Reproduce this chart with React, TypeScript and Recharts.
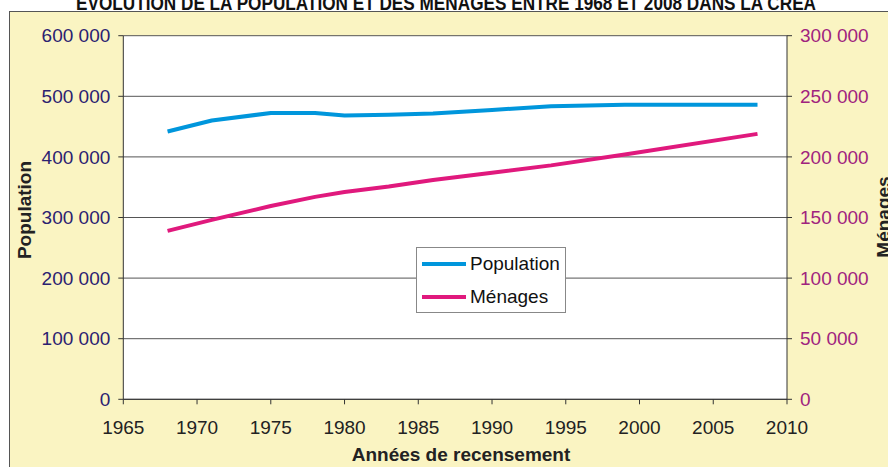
import React from 'react';
import { LineChart, Line, XAxis, YAxis, CartesianGrid, Legend, Label } from 'recharts';

const YEARS = [1968, 1971, 1975, 1978, 1980, 1983, 1986, 1990, 1994, 1999, 2008];
const POPULATION = [442000, 460000, 472500, 472500, 468500, 469500, 471500, 477500, 483500, 486000, 486000];
const MENAGES = [139000, 148000, 159500, 167000, 171000, 175500, 181000, 187000, 193000, 202000, 219000];

const X_TICKS = [1965, 1970, 1975, 1980, 1985, 1990, 1995, 2000, 2005, 2010];
const POP_TICKS = [0, 100000, 200000, 300000, 400000, 500000, 600000];
const MEN_TICKS = [0, 50000, 100000, 150000, 200000, 250000, 300000];

const TITLE = 'ÉVOLUTION DE LA POPULATION ET DES MÉNAGES ENTRE 1968 ET 2008 DANS LA CREA';

const data = YEARS.map((year, i) => ({ year, population: POPULATION[i], menages: MENAGES[i] }));

const FONT = '"Liberation Sans", Arial, sans-serif';
const BLUE = '#0096dc';
const PINK = '#e0197d';

const fmt = (v: number) => String(v).replace(/\B(?=(\d{3})+(?!\d))/g, ' ');

const LegendBox = () => (
  <div
    style={{
      width: 148,
      height: 64,
      background: '#fff',
      border: '1px solid #888',
      fontFamily: FONT,
      fontSize: 19,
      color: '#111',
      position: 'relative',
    }}
  >
    {[
      { name: 'Population', color: BLUE, top: 16 },
      { name: 'Ménages', color: PINK, top: 49 },
    ].map((item) => (
      <div key={item.name} style={{ position: 'absolute', left: 5, top: item.top - 11, height: 22, display: 'flex', alignItems: 'center' }}>
        <span style={{ display: 'inline-block', width: 44, height: 4, background: item.color, marginRight: 4 }} />
        <span>{item.name}</span>
      </div>
    ))}
  </div>
);

export default function App() {
  return (
    <div style={{ position: 'absolute', left: 0, top: 0, width: 888, height: 467, background: '#fff', overflow: 'hidden' }}>
      <div
        style={{
          position: 'absolute',
          left: 9,
          top: 11,
          width: 900,
          height: 480,
          background: '#faf4c2',
          borderTop: '1px solid #555',
          borderLeft: '1px solid #555',
        }}
      />
      <svg width={888} height={12} style={{ position: 'absolute', left: 0, top: 0 }}>
        <text x={76} y={9.5} fontFamily={FONT} fontWeight="bold" fontSize={20} fill="#111" textLength={740} lengthAdjust="spacingAndGlyphs">
          {TITLE}
        </text>
      </svg>
      <div style={{ position: 'absolute', left: 0, top: 0 }}>
        <LineChart width={888} height={467} data={data} margin={{ top: 35.7, right: 11, bottom: 27.7, left: 13.3 }} style={{ fontFamily: FONT }}>
          <CartesianGrid vertical={false} stroke="#555" fill="#fff" yAxisId="left" />
          <XAxis
            dataKey="year"
            type="number"
            domain={[1965, 2010]}
            ticks={X_TICKS}
            interval={0}
            height={40}
            tickSize={5}
            tickMargin={16}
            axisLine={{ stroke: '#333' }}
            tickLine={{ stroke: '#333' }}
            tick={{ fill: '#222', fontSize: 19 }}
          >
            <Label
              content={({ viewBox }: any) => (
                <text x={461} y={461} textAnchor="middle" fontFamily={FONT} fontWeight="bold" fontSize={19} fill="#222">
                  Années de recensement
                </text>
              )}
            />
          </XAxis>
          <YAxis
            yAxisId="left"
            domain={[0, 600000]}
            ticks={POP_TICKS}
            interval={0}
            width={110}
            tickSize={5}
            tickMargin={8}
            tickFormatter={fmt}
            axisLine={{ stroke: '#333' }}
            tickLine={{ stroke: '#333' }}
            tick={{ fill: '#2b2171', fontSize: 19 }}
          >
            <Label
              content={() => (
                <text transform="translate(31,210) rotate(-90)" textAnchor="middle" fontFamily={FONT} fontWeight="bold" fontSize={19} fill="#222">
                  Population
                </text>
              )}
            />
          </YAxis>
          <YAxis
            yAxisId="right"
            orientation="right"
            domain={[0, 300000]}
            ticks={MEN_TICKS}
            interval={0}
            width={90}
            tickSize={5}
            tickMargin={8}
            tickFormatter={fmt}
            axisLine={{ stroke: '#333' }}
            tickLine={{ stroke: '#333' }}
            tick={{ fill: '#a0237e', fontSize: 19 }}
          >
            <Label
              content={() => (
                <text transform="translate(890,217) rotate(-90)" textAnchor="middle" fontFamily={FONT} fontWeight="bold" fontSize={19} fill="#222">
                  Ménages
                </text>
              )}
            />
          </YAxis>
          <Legend
            layout="vertical"
            align="center"
            verticalAlign="middle"
            content={() => <LegendBox />}
            wrapperStyle={{ left: 416, top: 247, width: 150, height: 66 }}
          />
          <Line
            yAxisId="left"
            type="linear"
            dataKey="population"
            name="Population"
            stroke={BLUE}
            strokeWidth={4}
            dot={false}
            activeDot={false}
            strokeLinejoin="round"
            isAnimationActive={false}
          />
          <Line
            yAxisId="right"
            type="linear"
            dataKey="menages"
            name="Ménages"
            stroke={PINK}
            strokeWidth={4}
            dot={false}
            activeDot={false}
            strokeLinejoin="round"
            isAnimationActive={false}
          />
        </LineChart>
      </div>
    </div>
  );
}
